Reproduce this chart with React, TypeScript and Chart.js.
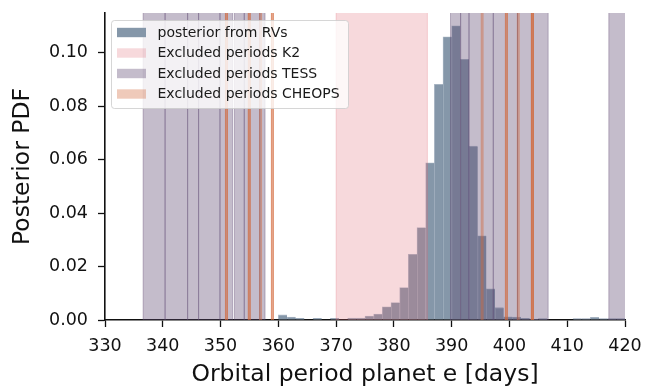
import React, { useEffect, useRef } from 'react';
import { Chart, registerables } from 'chart.js';

Chart.register(...registerables);

// ---- data ----
const binStarts = [
  360, 361.5, 363, 364.5, 366, 367.5, 369, 370.5, 372, 373.5,
  375, 376.5, 378, 379.5, 381, 382.5, 384, 385.5, 387, 388.5,
  390, 391.5, 393, 394.5, 396, 397.5, 399, 400.5, 402, 403.5,
  405, 406.5, 408, 409.5, 411, 412.5, 414, 415.5, 417, 418.5,
];
const binWidth = 1.5;
const posteriorPdf = [
  0.0019, 0.0011, 0.0006, 0, 0.0006, 0, 0.0006, 0, 0.0007, 0.0007,
  0.0015, 0.0022, 0.0049, 0.0065, 0.0121, 0.0246, 0.0346, 0.0588, 0.0881, 0.1059,
  0.11, 0.0975, 0.065, 0.0315, 0.0117, 0.0046, 0.0012, 0.0011, 0.0006, 0.0003,
  0.0005, 0, 0, 0, 0.0005, 0.0005, 0.001, 0.0005, 0.0005, 0.0005,
];
const k2Excluded: [number, number][] = [[370.0, 385.8]];
const tessExcluded: [number, number][] = [
  [336.6, 340.4], [340.4, 344.3], [344.3, 346.2], [346.2, 349.9], [349.9, 352.1],
  [352.4, 354.1], [354.1, 356.8], [356.8, 357.7],
  [389.8, 391.55], [391.55, 393.0], [393.0, 397.2], [397.2, 401.4], [401.4, 406.7],
  [417.2, 421.0],
];
const cheopsExcluded: [number, number][] = [
  [350.85, 351.2], [350.85, 351.2],
  [354.8, 355.15], [354.8, 355.15],
  [356.75, 357.1],
  [358.8, 359.15], [358.8, 359.15],
  [395.1, 395.45],
  [399.3, 399.65], [399.3, 399.65],
  [401.35, 401.7],
  [403.8, 404.15], [403.8, 404.15], [403.8, 404.15],
];
const xTicks = [330, 340, 350, 360, 370, 380, 390, 400, 410, 420];
const yTicks = [0, 0.02, 0.04, 0.06, 0.08, 0.1];
const legendLabels = [
  'posterior from RVs',
  'Excluded periods K2',
  'Excluded periods TESS',
  'Excluded periods CHEOPS',
];
const xTitle = 'Orbital period planet e [days]';
const yTitle = 'Posterior PDF';

// ---- styles ----
const FONT = "'DejaVu Sans', sans-serif";
const C_POST = '#8597a9';
const C_K2 = 'rgba(223,103,115,0.25)';
const C_TESS = 'rgba(95,74,114,0.37)';
const C_CHEOPS = 'rgba(208,102,56,0.35)';

const bandsPlugin = {
  id: 'bands',
  afterDatasetsDraw(chart: any) {
    const { ctx, chartArea } = chart;
    const x = chart.scales.x;
    const top = chartArea.top;
    const h = chartArea.bottom - chartArea.top;
    ctx.save();
    ctx.beginPath();
    ctx.rect(chartArea.left, chartArea.top, chartArea.right - chartArea.left, h);
    ctx.clip();
    const span = (a: number, b: number, color: string) => {
      const x0 = x.getPixelForValue(a);
      const x1 = x.getPixelForValue(b);
      ctx.fillStyle = color;
      ctx.fillRect(x0, top, x1 - x0, h);
      ctx.strokeStyle = color;
      ctx.lineWidth = 1;
      ctx.beginPath();
      ctx.moveTo(x0, top);
      ctx.lineTo(x0, top + h);
      ctx.moveTo(x1, top);
      ctx.lineTo(x1, top + h);
      ctx.stroke();
    };
    k2Excluded.forEach(([a, b]) => span(a, b, C_K2));
    tessExcluded.forEach(([a, b]) => span(a, b, C_TESS));
    cheopsExcluded.forEach(([a, b]) => span(a, b, C_CHEOPS));
    ctx.restore();
  },
};

const legendPlugin = {
  id: 'customLegend',
  afterDraw(chart: any) {
    const { ctx } = chart;
    const colors = [C_POST, C_K2, C_TESS, C_CHEOPS];
    const bx = 111.5, by = 20.5, bw = 237, bh = 88, r = 3;
    ctx.save();
    ctx.beginPath();
    ctx.moveTo(bx + r, by);
    ctx.lineTo(bx + bw - r, by);
    ctx.arcTo(bx + bw, by, bx + bw, by + r, r);
    ctx.lineTo(bx + bw, by + bh - r);
    ctx.arcTo(bx + bw, by + bh, bx + bw - r, by + bh, r);
    ctx.lineTo(bx + r, by + bh);
    ctx.arcTo(bx, by + bh, bx, by + bh - r, r);
    ctx.lineTo(bx, by + r);
    ctx.arcTo(bx, by, bx + r, by, r);
    ctx.closePath();
    ctx.fillStyle = 'rgba(255,255,255,0.8)';
    ctx.fill();
    ctx.strokeStyle = 'rgba(204,204,204,0.8)';
    ctx.lineWidth = 1;
    ctx.stroke();
    ctx.font = `14px ${FONT}`;
    ctx.textBaseline = 'middle';
    ctx.textAlign = 'left';
    legendLabels.forEach((label, i) => {
      const cy = 32.5 + i * 20.5;
      ctx.fillStyle = colors[i];
      ctx.fillRect(117, cy - 4.7, 29, 9.4);
      ctx.fillStyle = '#1a1a1a';
      ctx.fillText(label, 157.5, cy + 0.5);
    });
    ctx.restore();
  },
};

export default function App() {
  const ref = useRef<HTMLCanvasElement | null>(null);

  useEffect(() => {
    if (!ref.current) return;
    const chart = new Chart(ref.current, {
      type: 'bar',
      data: {
        datasets: [
          {
            label: legendLabels[0],
            data: binStarts.map((s, i) => ({ x: s + binWidth / 2, y: posteriorPdf[i] })),
            backgroundColor: C_POST,
            borderColor: 'rgba(85,108,138,0.45)',
            borderWidth: { top: 0.8, left: 0.8, right: 0, bottom: 0 } as any,
            barPercentage: 1,
            categoryPercentage: 1,
          },
        ],
      },
      options: {
        responsive: false,
        animation: false,
        devicePixelRatio: 1,
        layout: { padding: { left: 0, right: 34, top: 13, bottom: 0 } },
        plugins: {
          legend: { display: false },
          tooltip: { enabled: false },
        },
        scales: {
          x: {
            type: 'linear',
            min: 330,
            max: 420,
            offset: false,
            z: 1,
            afterFit: (s: any) => {
              s.height = 67;
              s.paddingLeft = 0;
              s.paddingRight = 0;
            },
            afterBuildTicks: (s: any) => { s.ticks = xTicks.map((v) => ({ value: v })); },
            grid: { display: true, drawOnChartArea: false, drawTicks: true, tickLength: 7, tickWidth: 1.3, tickColor: '#111', offset: false },
            border: { display: true, color: '#111', width: 1.6 },
            ticks: {
              color: '#111',
              font: { family: FONT, size: 17.5 },
              padding: 9,
              maxRotation: 0,
              autoSkip: false,
              callback: (v: any) => String(v),
            },
            title: {
              display: true,
              text: xTitle,
              color: '#111',
              font: { family: FONT, size: 23.5, lineHeight: 1 },
              padding: { top: 0, bottom: 0 },
            },
          },
          y: {
            type: 'linear',
            min: 0,
            max: 0.1148,
            z: 1,
            afterFit: (s: any) => {
              s.width = 105;
              s.paddingTop = 0;
              s.paddingBottom = 0;
            },
            afterBuildTicks: (s: any) => { s.ticks = yTicks.map((v) => ({ value: v })); },
            grid: { display: true, drawOnChartArea: false, drawTicks: true, tickLength: 7, tickWidth: 1.3, tickColor: '#111' },
            border: { display: true, color: '#111', width: 1.6 },
            ticks: {
              color: '#111',
              font: { family: FONT, size: 17.5 },
              padding: 10,
              autoSkip: false,
              callback: (v: any) => Number(v).toFixed(2),
            },
            title: {
              display: true,
              text: yTitle,
              color: '#111',
              font: { family: FONT, size: 23.5, lineHeight: 1 },
              padding: { top: 11, bottom: 0 },
            },
          },
        },
      },
      plugins: [bandsPlugin, legendPlugin],
    } as any);
    return () => chart.destroy();
  }, []);

  return (
    <div style={{ position: 'fixed', left: 0, top: 0, width: 659, height: 387, background: '#fff' }}>
      <canvas ref={ref} width={659} height={387} style={{ display: 'block', width: 659, height: 387 }} />
    </div>
  );
}
